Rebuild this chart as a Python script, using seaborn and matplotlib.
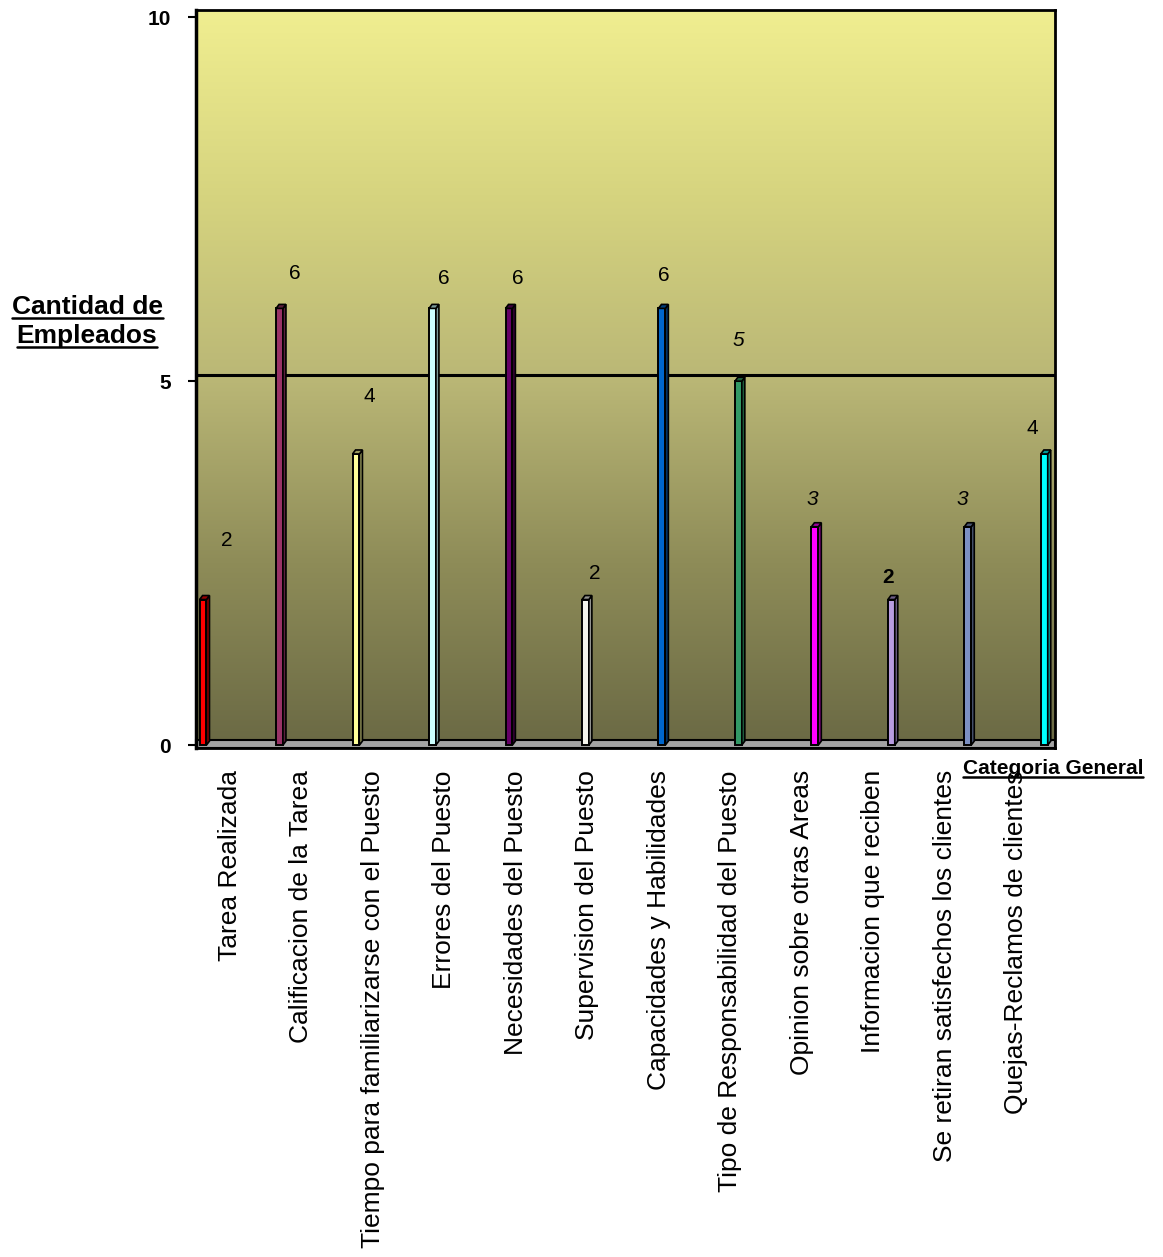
import numpy as np
import pandas as pd
import matplotlib
matplotlib.use("Agg")
import matplotlib.pyplot as plt
import seaborn as sns
from matplotlib.colors import LinearSegmentedColormap, to_rgb
from matplotlib.patches import Polygon, Rectangle
from matplotlib.lines import Line2D

# --- data ---
categorias = [
    "Tarea Realizada",
    "Calificacion de la Tarea",
    "Tiempo para familiarizarse con el Puesto",
    "Errores del Puesto",
    "Necesidades del Puesto",
    "Supervision del Puesto",
    "Capacidades y Habilidades",
    "Tipo de Responsabilidad del Puesto",
    "Opinion sobre otras Areas",
    "Informacion que reciben",
    "Se retiran satisfechos los clientes",
    "Quejas-Reclamos de clientes",
]
cantidades = [2, 6, 4, 6, 6, 2, 6, 5, 3, 2, 3, 4]
colores = ["#FF0000", "#993366", "#FFFF99", "#CCFFFF", "#660066", "#F4F4EC",
           "#0066CC", "#339966", "#FF00FF", "#B89CE0", "#7C90C2", "#00FFFF"]
yticks = [0, 5, 10]

# label styling / offsets (pixels) relative to the bar top
lbl_dx = [24, 15, 13, 11, 9, 9, 2, 0, -3, -3, -5, -12]
lbl_dy = [59, 35, 57, 30, 30, 26, 33, 41, 27, 22, 27, 25]
lbl_style = ["normal"] * 7 + ["italic", "italic", "normal", "italic", "normal"]
lbl_weight = ["normal"] * 9 + ["bold", "normal", "normal"]

sns.set_theme(style="white")
plt.rcParams["font.family"] = ["Liberation Sans", "DejaVu Sans"]
plt.rcParams["text.color"] = "black"
plt.rcParams["xtick.color"] = "black"
plt.rcParams["ytick.color"] = "black"
plt.rcParams["axes.labelcolor"] = "black"

W, H = 1163, 1257
fig = plt.figure(figsize=(W / 100, H / 100), dpi=100)
ax_l, ax_r, ax_t, ax_b = 196, 1055, 10, 748
ax = fig.add_axes([ax_l / W, 1 - ax_b / H, (ax_r - ax_l) / W, (ax_b - ax_t) / H])

df = pd.DataFrame({"categoria": categorias, "cantidad": cantidades})
sns.barplot(data=df, x="categoria", y="cantidad", hue="categoria",
            palette=colores, width=0.09, legend=False, ax=ax,
            edgecolor="black", linewidth=1.4, saturation=1, zorder=3)
bars = list(ax.patches)

xlim = (-0.092, 11.14)
ylim = (-0.04, 10.1)
ax.set_xlim(*xlim)
ax.set_ylim(*ylim)

# background gradient of the back wall
cmap = LinearSegmentedColormap.from_list(
    "pared", ["#6A6944", "#8E8C58", "#BAB776", "#D6D47F", "#F0EE90"])
grad = np.linspace(0, 1, 256).reshape(-1, 1)
ax.imshow(grad, extent=[xlim[0], xlim[1], ylim[0], ylim[1]], origin="lower",
          aspect="auto", cmap=cmap, zorder=0)
ax.set_xlim(*xlim)
ax.set_ylim(*ylim)

# grey floor strip
ax.add_patch(Rectangle((0, 0), 1, 0.011, transform=ax.transAxes,
                       facecolor="#A4A4A4", edgecolor="black", lw=1.5,
                       zorder=2, clip_on=False))

# gridline at 5
ax.axhline(5.08, color="black", lw=2.2, zorder=1)

# 3D depth for each bar: side face and top cap
px_x = (xlim[1] - xlim[0]) / (ax_r - ax_l)
px_y = (ylim[1] - ylim[0]) / (ax_b - ax_t)
ddx, ddy = 3 * px_x, 4 * px_y
for p in bars:
    x0, w, h = p.get_x(), p.get_width(), p.get_height()
    if h <= 0:
        continue
    fc = np.array(to_rgb(p.get_facecolor()))
    dark = fc * 0.6
    side = Polygon([(x0 + w, 0), (x0 + w + ddx, ddy), (x0 + w + ddx, h + ddy),
                    (x0 + w, h)], closed=True, facecolor=dark,
                   edgecolor="black", lw=1.2, zorder=3)
    top = Polygon([(x0, h), (x0 + ddx, h + ddy), (x0 + w + ddx, h + ddy),
                   (x0 + w, h)], closed=True, facecolor=dark,
                  edgecolor="black", lw=1.2, zorder=4)
    ax.add_patch(side)
    ax.add_patch(top)

# value labels
for i, v in enumerate(cantidades):
    ax.annotate(str(v), xy=(i, v), xytext=(lbl_dx[i], lbl_dy[i]),
                textcoords="offset pixels", ha="center", va="center",
                fontsize=15, fontstyle=lbl_style[i], fontweight=lbl_weight[i],
                color="black", zorder=5)

# axes styling
for s in ax.spines.values():
    s.set_visible(True)
    s.set_color("black")
    s.set_linewidth(2)
ax.spines["left"].set_linewidth(2.5)

ax.set_yticks(yticks)
ax.set_yticklabels([str(t) for t in yticks], fontsize=15, fontweight="bold",
                   color="black")
ax.tick_params(axis="y", length=6, width=1.5, pad=12, left=True, color="black")

tick_pos = 0.35 + 0.935 * np.arange(len(categorias))
ax.set_xticks(tick_pos)
ax.set_xticklabels(categorias, rotation=90, fontsize=19, ha="center", va="top",
                   color="black")
ax.tick_params(axis="x", length=0, pad=16)
ax.set_xlabel("")
ax.set_ylabel("")


def fig_text(x_px, y_px, s, **kw):
    return fig.text(x_px / W, 1 - y_px / H, s, **kw)


t1 = fig_text(87, 314, "Cantidad de", ha="center", va="baseline",
              fontsize=19, fontweight="bold", color="black")
t2 = fig_text(87, 343, "Empleados", ha="center", va="baseline",
              fontsize=19, fontweight="bold", color="black")
t3 = fig_text(1053, 774, "Categoria General", ha="center", va="baseline",
              fontsize=15, fontweight="bold", color="black")

fig.canvas.draw()
renderer = fig.canvas.get_renderer()
for t, y_px in [(t1, 318), (t2, 347), (t3, 777)]:
    bb = t.get_window_extent(renderer)
    yf = 1 - y_px / H
    fig.add_artist(Line2D([bb.x0 / W, bb.x1 / W], [yf, yf],
                          transform=fig.transFigure, color="black", lw=1.8))

fig.savefig("out.png", dpi=100)
